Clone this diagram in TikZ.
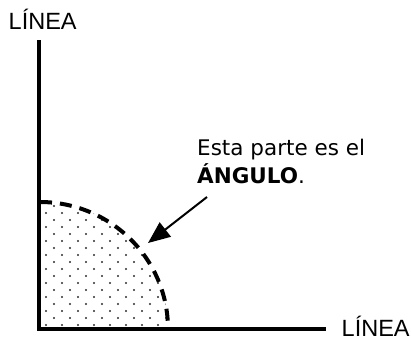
\documentclass[tikz,border=0pt]{standalone}
\usepackage{fontspec}
\setmainfont{Liberation Sans}
\newfontfamily\notefont{DejaVu Sans}
\usetikzlibrary{arrows.meta}
\begin{document}
\begin{tikzpicture}[x=1pt,y=-1pt,
  axis/.style={line width=4pt},
  arcline/.style={line width=4pt,dash pattern=on 12pt off 8pt},
  pointer/.style={line width=2pt,-{Triangle[length=22pt,width=18pt]}},
  lbl/.style={font=\fontsize{23.5}{26}\selectfont,inner sep=0pt},
  note/.style={font=\notefont\fontsize{21.5}{28}\selectfont,align=left,inner sep=0pt},
  dot/.style={fill=gray!35!black}]
\useasboundingbox (0,0) rectangle (411,341);
\coordinate (O) at (39,329);
\coordinate (T) at (39,40);
\coordinate (R) at (326,329);
% dotted fill
\begin{scope}
  \clip (40,329) -- (40,202) arc[start angle=90,end angle=0,x radius=128,y radius=-127] -- cycle;
  \foreach \j in {0,...,18}{
    \pgfmathsetmacro{\off}{mod(\j,2)*8}
    \foreach \i in {0,...,9}{
      \fill[dot] (46+\off+\i*16,325-\j*7) circle (1.1);
    }
  }
\end{scope}
\draw[arcline] (40,202) arc[start angle=90,end angle=0,x radius=128,y radius=-127];
\draw[axis] (T) -- (O) -- (R);
\node[lbl,anchor=west] (l1) at (8.5,19) {LÍNEA};
\node[lbl,anchor=west] (l2) at (341.5,326) {LÍNEA};
\node[note,anchor=north west] (n) at (197,139) {Esta parte es el\\\textbf{ÁNGULO}.};
\coordinate (tail) at (207,197);
\coordinate (tip) at (148,243);
\draw[pointer] (tail) -- (tip);
\end{tikzpicture}
\end{document}
